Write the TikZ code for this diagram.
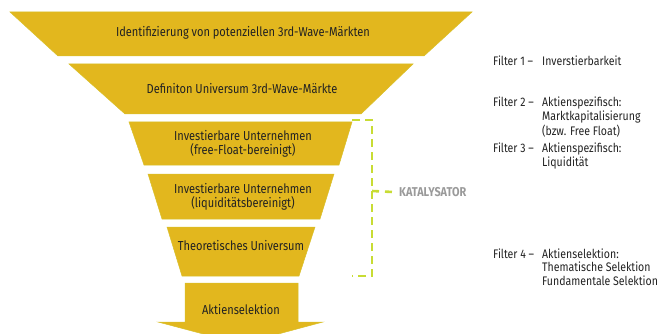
\documentclass[tikz,border=0pt]{standalone}
\usepackage{fontspec}
\setmainfont{Fira Sans}[FakeStretch=0.85]
\usetikzlibrary{calc}
\definecolor{funnelyellow}{HTML}{E2B71E}
\definecolor{funneledge}{HTML}{D8C02A}
\definecolor{bracketgreen}{HTML}{C8DC34}
\definecolor{katgray}{HTML}{9A9A9A}
\definecolor{txt}{HTML}{222222}
\tikzset{
  funnel/.style={fill=funnelyellow, draw=funneledge, line width=0.5pt},
  lbl/.style={text=txt, font=\fontsize{13}{14}\selectfont, align=center, inner sep=0pt},
  filt/.style={text=txt, font=\fontsize{12.4}{13.5}\selectfont, anchor=base west, inner sep=0pt},
  brk/.style={draw=bracketgreen, line width=2.6pt, dash pattern=on 8pt off 5pt},
  kat/.style={text=katgray, font=\bfseries\fontsize{12.8}{13.5}\selectfont, anchor=west, inner sep=0pt}
}
\newcommand{\flines}[1]{\begin{tabular}[t]{@{}l@{}}#1\end{tabular}}
\begin{document}
\begin{tikzpicture}[x=1pt,y=-1pt]
\useasboundingbox (0,0) rectangle (661,334);
% funnel stages
\fill[funnel] (10,12) -- (472,12) -- (424,56) -- (58,56) -- cycle;
\fill[funnel] (69,64) -- (413,64) -- (361,114) -- (125,114) -- cycle;
\fill[funnel] (129,122) -- (352,122) -- (339,165) -- (144,165) -- cycle;
\fill[funnel] (148,174) -- (334,174) -- (320,219) -- (162,219) -- cycle;
\fill[funnel] (167,227) -- (315,227) -- (299,276) -- (182,276) -- cycle;
% arrow
\fill[funnel] (185,283) -- (298,283) -- (298,322) -- (323,322) -- (241,344) -- (158,322) -- (185,322) -- cycle;
% labels
\node[lbl] (s1) at (243,33) {Identifizierung von potenziellen 3rd-Wave-Märkten};
\node[lbl] (s2) at (242,89) {Definiton Universum 3rd-Wave-Märkte};
\node[lbl] (s3) at (243,143.5) {Investierbare Unternehmen\\(free-Float-bereinigt)};
\node[lbl] (s4) at (243,197) {Investierbare Unternehmen\\(liquiditätsbereinigt)};
\node[lbl] (s5) at (241,246) {Theoretisches Universum};
\node[lbl] (s6) at (241,310) {Aktienselektion};
% bracket
\coordinate (bt) at (352,120);
\coordinate (btc) at (372,120);
\coordinate (bbc) at (372,276);
\coordinate (bb) at (352,276);
\coordinate (bm) at (372,191);
\draw[brk] (bt) -- (btc) -- (bbc) -- (bb);
\node[kat] (kat) at (399,192) {KATALYSATOR};
\draw[brk, dash pattern=on 7pt off 6pt] (bm) -- (kat.west -| 393,0);
% filters
\node[filt] (f1) at (493,66) {Filter 1 –};
\node[filt] (g1) at (542,66) {Inverstierbarkeit};
\node[filt] (f2) at (493,107) {Filter 2 –};
\node[filt] (g2) at (542,107) {\flines{Aktienspezifisch:\\Marktkapitalisierung\\(bzw. Free Float)}};
\node[filt] (f3) at (493,153) {Filter 3 –};
\node[filt] (g3) at (542,153) {\flines{Aktienspezifisch:\\Liquidität}};
\node[filt] (f4) at (493,258) {Filter 4 –};
\node[filt] (g4) at (542,258) {\flines{Aktienselektion:\\Thematische Selektion\\Fundamentale Selektion}};
\end{tikzpicture}
\end{document}
